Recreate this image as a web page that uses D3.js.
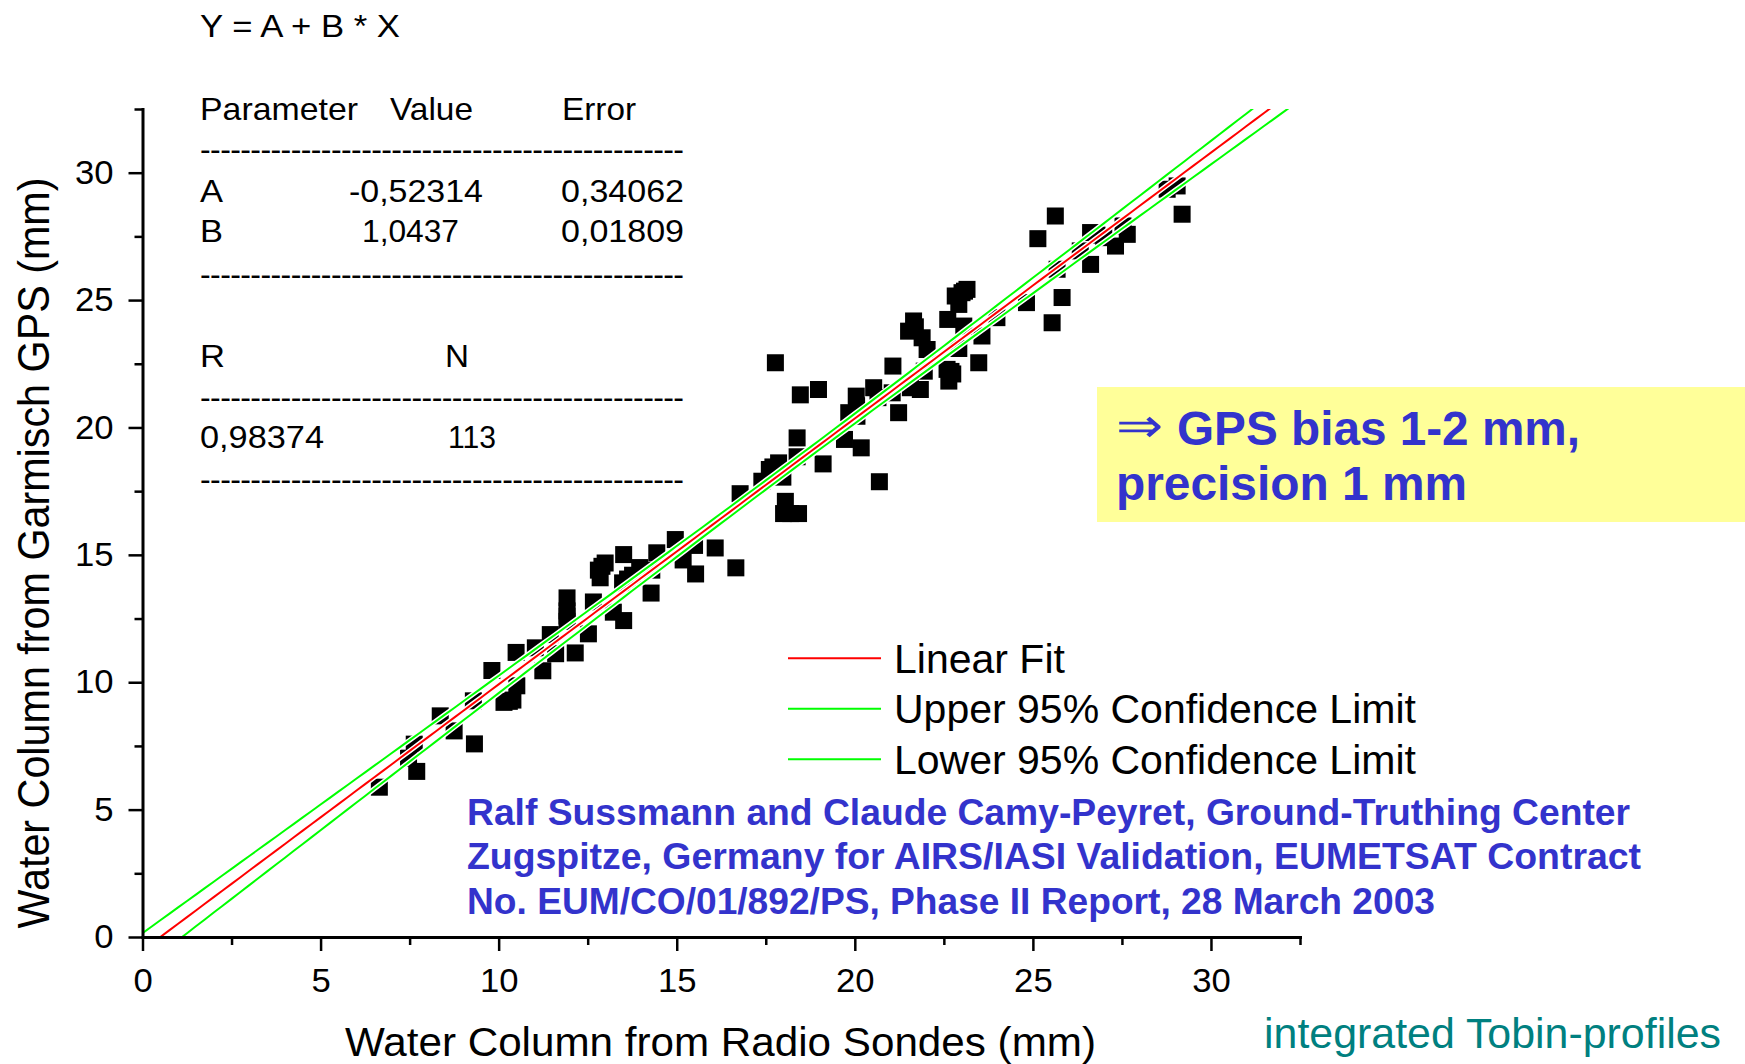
<!DOCTYPE html>
<html>
<head>
<meta charset="utf-8">
<script src="https://cdn.jsdelivr.net/npm/d3@7"></script>
<style>
  html, body { margin: 0; padding: 0; background: #fff; }
  svg { display: block; }
  text { font-family: "Liberation Sans", Arial, Helvetica, sans-serif; }
</style>
</head>
<body>
<svg id="chart" width="1745" height="1064"></svg>
<script>
// Integrated water column: radiosondes (x) vs. Garmisch GPS (y), in mm
const sondeX = [
  6.65, 7.47, 7.63, 7.70, 8.36, 8.75, 9.29, 9.32, 9.81, 10.15,
  10.30, 10.40, 10.51, 10.49, 11.03, 11.24, 11.45, 11.60, 11.92, 11.92,
  11.92, 11.92, 12.15, 12.52, 12.66, 12.80, 12.90, 12.99, 12.85, 13.22,
  13.51, 13.51, 13.48, 13.62, 13.76, 13.96, 14.28, 14.44, 14.30, 14.96,
  15.18, 15.50, 15.53, 16.08, 16.66, 16.78, 17.39, 17.60, 17.70, 17.86,
  17.98, 17.77, 18.05, 18.00, 18.20, 18.42, 18.38, 18.38, 18.47, 18.98,
  19.11, 19.71, 19.83, 20.04, 20.05, 20.06, 20.18, 20.53, 20.65, 20.69,
  21.07, 21.05, 21.23, 21.56, 21.84, 21.95, 21.65, 21.51, 21.70, 21.89,
  22.03, 22.59, 22.64, 22.70, 22.75, 22.92, 22.92, 22.61, 23.06, 23.48,
  23.57, 23.99, 23.01, 23.08, 23.15, 22.82, 24.82, 25.54, 25.82, 25.68,
  25.14, 25.63, 26.33, 26.62, 26.62, 26.80, 26.99, 27.32, 27.53, 27.65,
  28.77, 29.05, 29.19
];
const gpsY = [
  5.88, 7.02, 7.57, 6.50, 8.68, 8.09, 9.27, 7.58, 10.46, 9.21,
  9.25, 9.30, 9.86, 11.17, 11.35, 10.45, 11.87, 11.12, 13.31, 12.80,
  12.60, 12.39, 11.15, 11.90, 13.15, 14.40, 14.55, 14.68, 14.10, 12.75,
  12.42, 15.01, 13.90, 14.05, 14.20, 14.50, 13.50, 15.08, 14.40, 15.60,
  14.80, 15.37, 14.25, 15.27, 14.49, 17.40, 17.89, 18.35, 18.45, 18.61,
  18.05, 22.54, 17.10, 16.62, 16.62, 16.62, 18.85, 19.59, 21.28, 21.49,
  18.57, 19.53, 20.58, 21.23, 20.85, 20.44, 19.20, 21.56, 21.17, 17.87,
  22.41, 21.36, 20.58, 21.56, 21.49, 22.21, 24.18, 23.78, 23.95, 23.52,
  23.06, 22.28, 21.82, 22.20, 22.10, 23.10, 24.83, 24.24, 23.98, 22.54,
  23.59, 24.31, 25.29, 25.35, 25.42, 25.16, 24.90, 24.11, 25.10, 26.21,
  27.41, 28.30, 26.93, 27.65, 26.40, 27.55, 27.45, 27.12, 27.91, 27.58,
  29.35, 29.48, 28.37
];

// Linear fit results
const fitA = -0.52314, fitB = 1.0437;
const errA = 0.34062, errB = 0.01809;
const corrR = "0,98374", countN = "113";
const tCrit = 1.98;

// Axis ticks
const xTicks = [0, 5, 10, 15, 20, 25, 30];
const yTicks = [0, 5, 10, 15, 20, 25, 30];
const minorTicks = [2.5, 7.5, 12.5, 17.5, 22.5, 27.5, 32.5];

// Text content
const fitTable = [
  { t: "Parameter", x: 200, y: 119.5, w: 158 },
  { t: "Value", x: 390, y: 119.5, w: 83 },
  { t: "Error", x: 562, y: 119.5, w: 74 },
  { t: "A", x: 200, y: 202, w: 23 },
  { t: "-0,52314", x: 349, y: 202, w: 134 },
  { t: "0,34062", x: 561, y: 202, w: 123 },
  { t: "B", x: 200, y: 242, w: 23 },
  { t: "1,0437", x: 362, y: 242, w: 97 },
  { t: "0,01809", x: 561, y: 242, w: 123 },
  { t: "R", x: 200, y: 367, w: 25 },
  { t: "N", x: 445, y: 367, w: 24 },
  { t: corrR, x: 200, y: 447.5, w: 124 },
  { t: countN, x: 448, y: 447.5, w: 48 }
];
const ruleRows = [151.7, 276, 399, 481.7];
const legendItems = [
  { label: "Linear Fit", color: "#ff0000" },
  { label: "Upper 95% Confidence Limit", color: "#00ff00" },
  { label: "Lower 95% Confidence Limit", color: "#00ff00" }
];
const citeLines = [
  "Ralf Sussmann and Claude Camy-Peyret, Ground-Truthing Center",
  "Zugspitze, Germany for AIRS/IASI Validation, EUMETSAT Contract",
  "No. EUM/CO/01/892/PS, Phase II Report, 28 March 2003"
];
const citeWidths = [1163, 1174, 968];

const svg = d3.select("#chart");
const x = d3.scaleLinear().domain([0, 32.5]).range([142.5, 1300]);
const y = d3.scaleLinear().domain([0, 32.5]).range([937, 109]);

// Stretch a text node horizontally by factor k, or to a fixed width
function stretch(node, k, width) {
  const w = node.getComputedTextLength();
  node.setAttribute("textLength", width != null ? width : w * k);
  node.setAttribute("lengthAdjust", "spacingAndGlyphs");
}

svg.append("defs").append("clipPath").attr("id", "plotArea")
  .append("rect")
  .attr("x", x(0)).attr("y", y(32.5))
  .attr("width", x(32.5) - x(0)).attr("height", y(0) - y(32.5));

// Data points
const mark = 17;
svg.append("g").selectAll("rect")
  .data(d3.zip(sondeX, gpsY))
  .join("rect")
  .attr("x", d => x(d[0]) - mark / 2)
  .attr("y", d => y(d[1]) - mark / 2)
  .attr("width", mark).attr("height", mark)
  .attr("fill", "#000");

// Fit line and 95% confidence band of the mean
const xMean = d3.mean(sondeX);
const s2n = Math.max(0, errA * errA - xMean * xMean * errB * errB);
const fitY = v => fitA + fitB * v;
const half = v => tCrit * Math.sqrt(s2n + (v - xMean) * (v - xMean) * errB * errB);
const grid = d3.range(0, 32.5001, 0.25);
const curves = [
  { f: v => fitY(v) + half(v), color: "#00ff00" },
  { f: v => fitY(v) - half(v), color: "#00ff00" },
  { f: fitY, color: "#ff0000" }
];
const pathOf = f => d3.line().x(v => x(v)).y(v => y(f(v)))(grid);
const lines = svg.append("g").attr("clip-path", "url(#plotArea)");
lines.selectAll("path.halo").data(curves).join("path")
  .attr("class", "halo").attr("d", c => pathOf(c.f))
  .attr("fill", "none").attr("stroke", "#fff").attr("stroke-width", 5);
lines.selectAll("path.fit").data(curves).join("path")
  .attr("class", "fit").attr("d", c => pathOf(c.f))
  .attr("fill", "none").attr("stroke", c => c.color).attr("stroke-width", 2);

// Axes
function styleAxis(g) {
  g.select(".domain").attr("stroke-width", 3).attr("stroke-linecap", "square");
  g.selectAll(".tick line").attr("stroke-width", 2.5);
  g.selectAll(".tick text").attr("font-size", 33).attr("fill", "#000")
    .attr("font-family", "Liberation Sans, Arial, sans-serif")
    .each(function () { stretch(this, 1.05); });
}
const gxMinor = svg.append("g").attr("transform", `translate(0,${y(0)})`)
  .call(d3.axisBottom(x).tickValues(minorTicks).tickSize(8).tickSizeOuter(0).tickFormat(""));
gxMinor.select(".domain").remove();
gxMinor.selectAll(".tick line").attr("stroke-width", 2.5);
const gyMinor = svg.append("g").attr("transform", `translate(${x(0)},0)`)
  .call(d3.axisLeft(y).tickValues(minorTicks).tickSize(8).tickSizeOuter(0).tickFormat(""));
gyMinor.select(".domain").remove();
gyMinor.selectAll(".tick line").attr("stroke-width", 2.5);

const gx = svg.append("g").attr("transform", `translate(0,${y(0)})`)
  .call(d3.axisBottom(x).tickValues(xTicks).tickSize(14).tickSizeOuter(0).tickPadding(18).tickFormat(d3.format("d")));
styleAxis(gx);
const gy = svg.append("g").attr("transform", `translate(${x(0)},0)`)
  .call(d3.axisLeft(y).tickValues(yTicks).tickSize(14).tickSizeOuter(0).tickPadding(15).tickFormat(d3.format("d")));
styleAxis(gy);

// Axis titles
svg.append("text")
  .attr("x", 720.5).attr("y", 1056)
  .attr("text-anchor", "middle").attr("font-size", 40)
  .text("Water Column from Radio Sondes  (mm)")
  .each(function () { stretch(this, 1, 751); });
svg.append("text")
  .attr("transform", "translate(49,553) scale(1.12,1) rotate(-90)")
  .attr("text-anchor", "middle").attr("font-size", 40)
  .text("Water Column from Garmisch GPS  (mm)")
  .each(function () { stretch(this, 1, 751); });

// Fit summary block
const table = svg.append("g").attr("font-size", 32).attr("fill", "#000");
table.append("text").attr("x", 200).attr("y", 37).text("Y = A + B * X")
  .each(function () { stretch(this, 1, 200); });
table.selectAll("text.cell").data(fitTable).join("text")
  .attr("class", "cell").attr("x", d => d.x).attr("y", d => d.y).text(d => d.t)
  .each(function (d) { stretch(this, 1, d.w); });
table.selectAll("text.rule").data(ruleRows).join("text")
  .attr("class", "rule").attr("x", 200).attr("y", d => d + 8.5)
  .text("-".repeat(48))
  .attr("textLength", 484).attr("lengthAdjust", "spacing");

// Legend
const legend = svg.append("g");
legendItems.forEach((d, i) => {
  const ly = 658.3 + i * 50.5;
  legend.append("line").attr("x1", 788).attr("x2", 881).attr("y1", ly).attr("y2", ly)
    .attr("stroke", d.color).attr("stroke-width", 2);
  legend.append("text").attr("x", 894).attr("y", ly + 14.5).attr("font-size", 41)
    .attr("fill", "#000").text(d.label);
});

// Citation
const cite = svg.append("g").attr("font-size", 37).attr("font-weight", "bold").attr("fill", "#3333cc");
citeLines.forEach((t, i) => {
  cite.append("text").attr("x", 467).attr("y", 825 + i * 44.3).text(t)
    .each(function () { stretch(this, 1, citeWidths[i]); });
});

// Highlight box
svg.append("rect").attr("x", 1097).attr("y", 387).attr("width", 648).attr("height", 135)
  .attr("fill", "#ffff99");
svg.append("text").attr("x", 1116).attr("y", 442).attr("font-size", 48)
  .attr("font-family", "DejaVu Sans, sans-serif").attr("fill", "#3333cc")
  .text("\u21D2").each(function () { stretch(this, 1, 47); });
svg.append("text").attr("x", 1177).attr("y", 445).attr("font-size", 48)
  .attr("font-weight", "bold").attr("fill", "#3333cc")
  .text("GPS bias 1-2 mm,").each(function () { stretch(this, 1, 403); });
svg.append("text").attr("x", 1116).attr("y", 500).attr("font-size", 48)
  .attr("font-weight", "bold").attr("fill", "#3333cc")
  .text("precision 1 mm").each(function () { stretch(this, 1, 351); });

// Source note
svg.append("text").attr("x", 1264).attr("y", 1048).attr("font-size", 42)
  .attr("fill", "#008080").text("integrated Tobin-profiles")
  .each(function () { stretch(this, 1, 457); });
</script>
</body>
</html>
